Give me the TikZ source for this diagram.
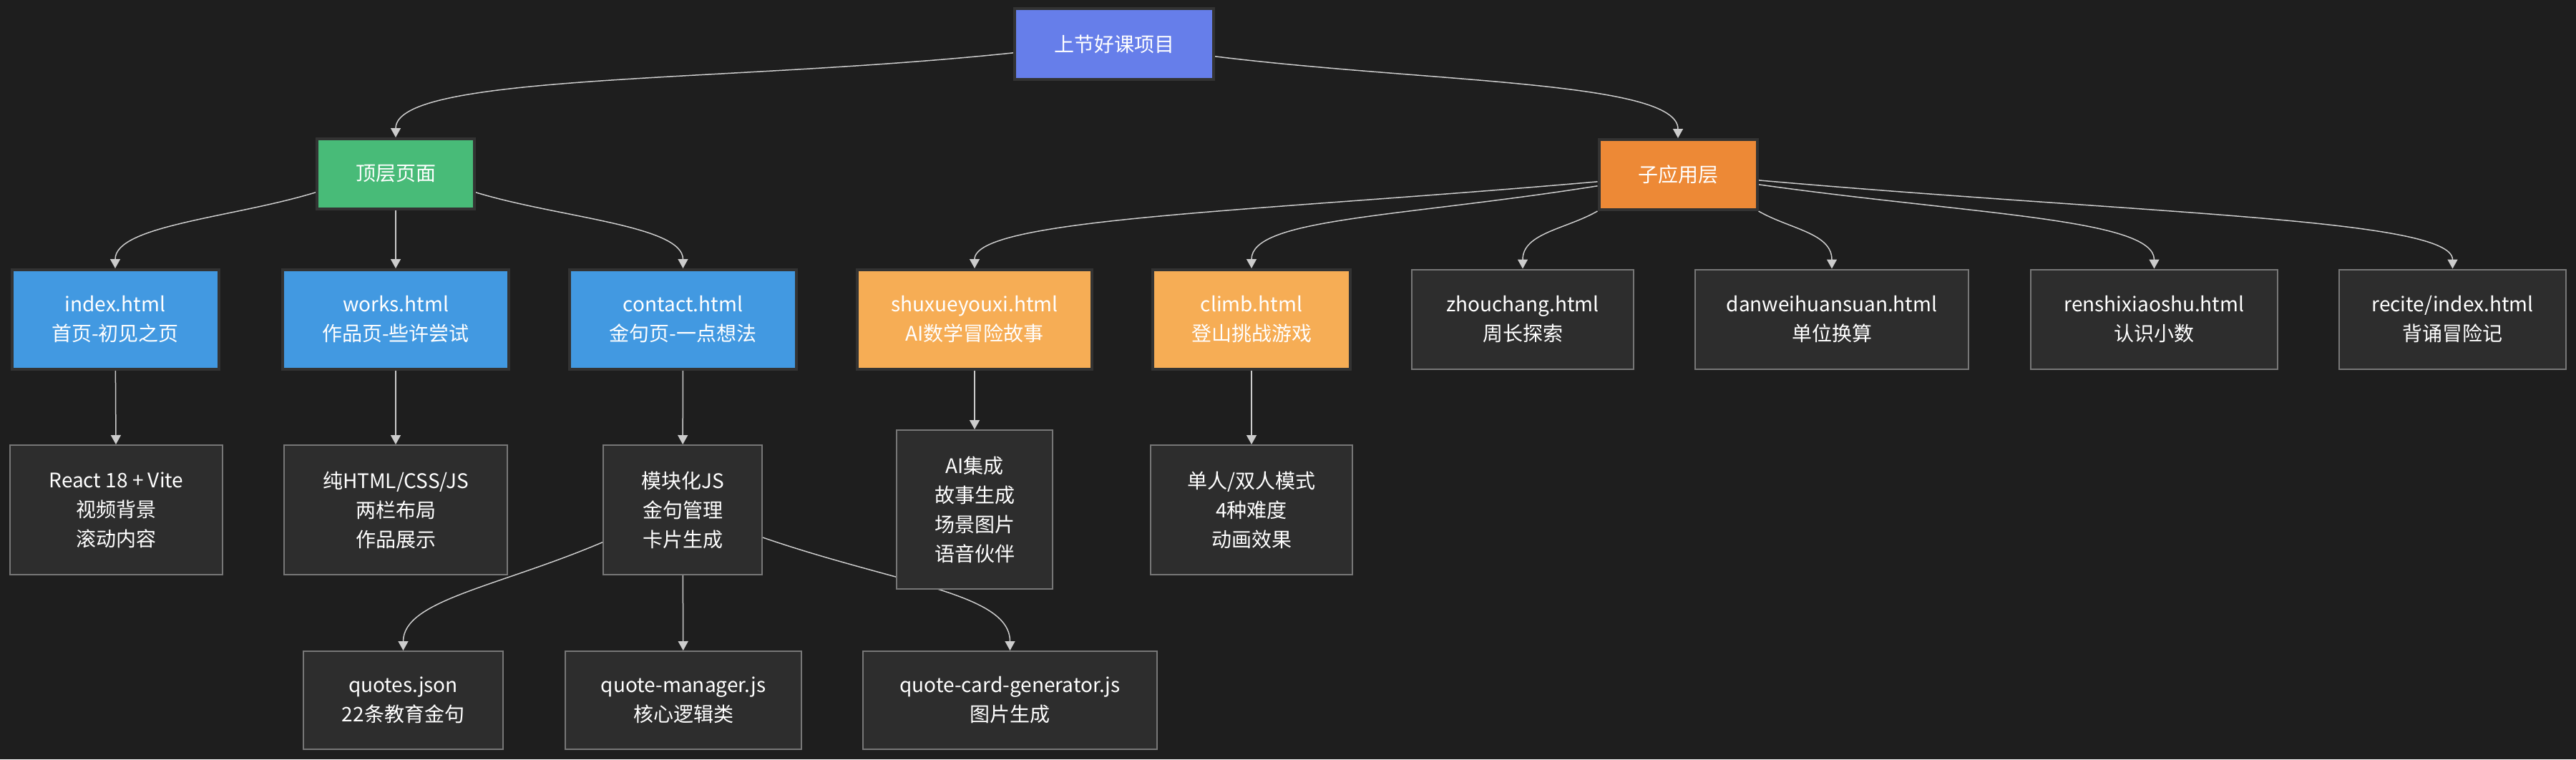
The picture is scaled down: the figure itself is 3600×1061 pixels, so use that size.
\documentclass[tikz,border=0pt]{standalone}
\definecolor{bgDark}{HTML}{1E1E1E}
\definecolor{boxDark}{HTML}{2D2D2D}
\definecolor{boxEdge}{HTML}{777777}
\definecolor{rootBlue}{HTML}{667EEA}
\definecolor{topGreen}{HTML}{48BB78}
\definecolor{pageBlue}{HTML}{4299E1}
\definecolor{subOrange}{HTML}{ED8936}
\definecolor{appOrange}{HTML}{F6AD55}
\definecolor{edgeGray}{HTML}{CCCCCC}
\usepackage{fontspec}
\setmainfont{Noto Sans CJK SC}
\usepackage{tikz}
\usetikzlibrary{arrows.meta,backgrounds}
\pgfdeclarelayer{edgelayer}
\pgfsetlayers{background,edgelayer,main}
\newcommand{\boxfont}{\fontsize{14pt}{20.5pt}\selectfont}

\begin{document}
\begin{tikzpicture}[x=0.5pt,y=0.5pt,
    box/.style={draw=boxEdge, line width=1pt, fill=boxDark, text=white,
      align=center, font=\boxfont, inner sep=0pt, minimum height=69.5pt},
    colbox/.style={box, draw=black!80, line width=2pt},
    link/.style={draw=edgeGray, line width=0.75pt,
      -{Triangle[length=6.5pt,width=7pt]}}]
        \useasboundingbox (0,0) rectangle (3600,-1061);
        \begin{pgfonlayer}{background}
          \fill[bgDark] (0,0) rectangle (3600,-1061);
        \end{pgfonlayer}
        % --- ROOT ---
        \node[colbox, fill=rootBlue, minimum width=139pt, minimum height=49.5pt]
          (root) at (1557,-61.5) {上节好课项目};
        % --- LEVEL 1 ---
        \node[colbox, fill=topGreen, minimum width=110pt, minimum height=49pt]
          (toppage) at (553,-243) {顶层页面};
        \node[colbox, fill=subOrange, minimum width=110.5pt, minimum height=49pt]
          (subapp) at (2345,-244) {子应用层};
        % Top pages
        \node[colbox, fill=pageBlue, minimum width=144.5pt]
          (index) at (161,-446.5) {index.html\\首页-初见之页};
        \node[colbox, fill=pageBlue, minimum width=158pt]
          (works) at (553,-446.5) {works.html\\作品页-些许尝试};
        \node[colbox, fill=pageBlue, minimum width=158.5pt]
          (contact) at (954.5,-446.5) {contact.html\\金句页-一点想法};
        % Sub apps
        \node[colbox, fill=appOrange, minimum width=164pt]
          (shuxue) at (1362,-446.5) {shuxueyouxi.html\\AI数学冒险故事};
        \node[colbox, fill=appOrange, minimum width=138pt]
          (climb) at (1749,-446.5) {climb.html\\登山挑战游戏};
        \node[box, minimum width=155pt]
          (zhouchang) at (2128,-446) {zhouchang.html\\周长探索};
        \node[box, minimum width=191pt]
          (danwei) at (2560,-446) {danweihuansuan.html\\单位换算};
        \node[box, minimum width=172.5pt]
          (renshi) at (3010.5,-446) {renshixiaoshu.html\\认识小数};
        \node[box, minimum width=158.5pt]
          (recite) at (3427.5,-446) {recite/index.html\\背诵冒险记};
        % --- DETAILS ---
        \node[box, minimum width=148.5pt, minimum height=90.5pt]
          (react) at (162.5,-712.5) {React 18 + Vite\\视频背景\\滚动内容};
        \node[box, minimum width=156pt, minimum height=90.5pt]
          (purehtml) at (553,-712.5) {纯HTML/CSS/JS\\两栏布局\\作品展示};
        \node[box, minimum width=111pt, minimum height=90.5pt]
          (modjs) at (954,-712.5) {模块化JS\\金句管理\\卡片生成};
        \node[box, minimum width=109pt, minimum height=111pt]
          (aiint) at (1362,-712) {AI集成\\故事生成\\场景图片\\语音伙伴};
        \node[box, minimum width=141pt, minimum height=90.5pt]
          (modes) at (1749,-712.5) {单人/双人模式\\4种难度\\动画效果};
        % Quote files
        \node[box, minimum width=139.5pt, minimum height=68.5pt]
          (quotes) at (563.5,-978.5) {quotes.json\\22条教育金句};
        \node[box, minimum width=165pt, minimum height=68.5pt]
          (qmanager) at (955,-978.5) {quote-manager.js\\核心逻辑类};
        \node[box, minimum width=205.5pt, minimum height=68.5pt]
          (qcard) at (1411.5,-978.5) {quote-card-generator.js\\图片生成};
        % --- CONNECTIONS ---
        \begin{pgfonlayer}{edgelayer}
          \draw[link] (root.185) to[out=186, in=90, out distance=200pt, in distance=45pt] (toppage.north);
          \draw[link] (root.-7) to[out=-7, in=90, out distance=150pt, in distance=40pt] (subapp.north);
          \draw[link] (toppage.193) to[out=197, in=90, out distance=60pt, in distance=30pt] (index.north);
          \draw[link] (toppage) -- (works);
          \draw[link] (toppage.-13) to[out=-17, in=90, out distance=60pt, in distance=30pt] (contact.north);
          \draw[link] (subapp.185) to[out=185, in=90, out distance=240pt, in distance=35pt] (shuxue.north);
          \draw[link] (subapp.188) to[out=189, in=90, out distance=140pt, in distance=35pt] (climb.north);
          \draw[link] (subapp.south west) to[out=210, in=90, out distance=25pt, in distance=25pt] (zhouchang.north);
          \draw[link] (subapp.south east) to[out=-30, in=90, out distance=25pt, in distance=25pt] (danwei.north);
          \draw[link] (subapp.-7) to[out=-8, in=90, out distance=150pt, in distance=35pt] (renshi.north);
          \draw[link] (subapp.-4) to[out=-5, in=90, out distance=270pt, in distance=35pt] (recite.north);
          \draw[link] (index) -- (react);
          \draw[link] (works) -- (purehtml);
          \draw[link] (contact) -- (modjs);
          \draw[link] (shuxue) -- (aiint);
          \draw[link] (climb) -- (modes);
          \draw[link] (modjs.202) to[out=203, in=90, out distance=80pt, in distance=35pt] (quotes.north);
          \draw[link] (modjs) -- (qmanager);
          \draw[link] (modjs.-19) to[out=-19, in=90, out distance=100pt, in distance=40pt] (qcard.north);
        \end{pgfonlayer}
\end{tikzpicture}
\end{document}
